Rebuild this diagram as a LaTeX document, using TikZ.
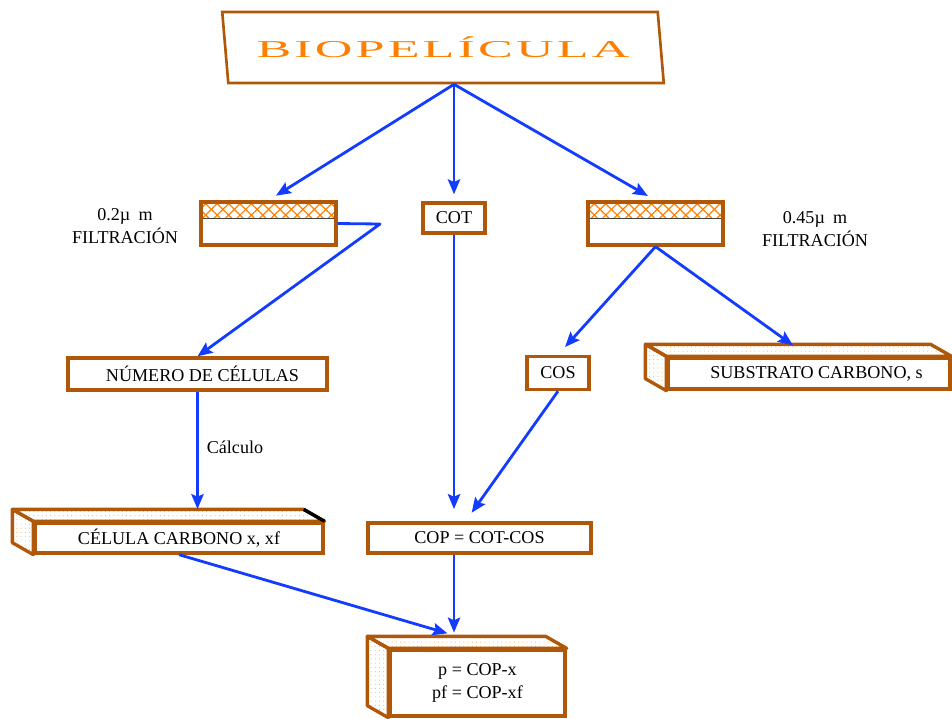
\documentclass[tikz,border=0pt]{standalone}
\usepackage{fontspec}
\setmainfont{Liberation Serif}
\newfontfamily\bioletra[LetterSpace=6]{Liberation Serif}
\usepackage{tikz}
\usetikzlibrary{calc,shapes.geometric,patterns.meta,arrows.meta}

\definecolor{marron}{RGB}{175,88,10}
\definecolor{naranja}{RGB}{255,128,0}
\definecolor{azul}{RGB}{20,60,255}

\begin{document}
\begin{tikzpicture}[x=0.02cm, y=-0.02cm, every node/.style={font=\fontsize{10.3}{13}\selectfont},
	caja/.style={draw=marron, line width=1.9pt, inner sep=0pt, anchor=center},
	cara/.style={draw=marron, line width=1.9pt, line join=round, pattern={Dots[distance=2.4pt, radius=.28pt]}, pattern color=naranja!70},
	filtro/.style={caja, minimum width=27mm, minimum height=8.6mm, path picture={
		\fill[pattern={Lines[angle=45, distance=4.6pt, line width=.7pt]}, pattern color=naranja] (path picture bounding box.north west) rectangle ([yshift=-3.3mm]path picture bounding box.north east);
		\fill[pattern={Lines[angle=-45, distance=4.6pt, line width=.7pt]}, pattern color=naranja] (path picture bounding box.north west) rectangle ([yshift=-3.3mm]path picture bounding box.north east);
		\draw[black!75, line width=.6pt] ([yshift=-3.3mm]path picture bounding box.north west) -- ([yshift=-3.3mm]path picture bounding box.north east);}},
	flecha/.style={draw=azul, line width=1.6pt, line join=round, -{Stealth[length=8.5pt, width=7pt, inset=1.5pt]}}]
	\useasboundingbox (0,0) rectangle (952,718);

	% titulo
	\node[draw=marron, line width=1.5pt, trapezium, trapezium left angle=104, trapezium right angle=76, trapezium stretches=true, minimum width=88.4mm, minimum height=14.2mm, inner sep=0pt] (bio) at (443,47.5) {\bioletra\fontsize{13.8}{16}\selectfont\color{naranja}\scalebox{2.15}[1]{BIOPELÍCULA}};

	% filtros y cajas
	\node[filtro] (fa) at (268.5,223.5) {};
	\node[filtro] (fb) at (655.5,223.5) {};
	\node[caja, minimum width=12.4mm, minimum height=6mm] (cot) at (454,218) {COT};
	\node[caja, minimum width=51.8mm, minimum height=6.4mm] (num) at (197.5,374) {\hspace{2mm}NÚMERO DE CÉLULAS};
	\node[caja, minimum width=12.4mm, minimum height=6.6mm] (cos) at (558,373) {COS};
	\node[caja, minimum width=56.4mm, minimum height=6.2mm] (sub) at (809,373.5) {\hspace{3mm}SUBSTRATO CARBONO, s};
	\node[caja, minimum width=57.6mm, minimum height=6mm] (cel) at (179,538) {CÉLULA CARBONO x, xf};
	\node[caja, minimum width=44.6mm, minimum height=6mm] (cop) at (479.5,538) {COP = COT-COS};
	\node[caja, minimum width=35mm, minimum height=13.2mm, align=center] (pval) at (477.5,683) {p = COP-x\\pf = COP-xf};

	% rotulos
	\node[align=center] (rota) at (125,226) {0.2µ\hspace{0.45em}m\\FILTRACIÓN};
	\node[align=center] (rotb) at (815,229) {0.45µ\hspace{0.45em}m\\FILTRACIÓN};
	\node (calculo) at (235,447) {Cálculo};
	\coordinate (codo) at (380,224);

	% caras de las cajas 3d
	\foreach \n in {sub,cel,pval} {
		\draw[cara] (\n.north west) -- ++(-21,-12) -- ($(\n.north east)+(-21,-12)$) -- (\n.north east) -- cycle;
		\draw[cara] (\n.north west) -- ++(-21,-12) -- ($(\n.south west)+(-21,-12)$) -- (\n.south west) -- cycle;
	}
	\draw[black, line width=1.9pt] ($(cel.north east)+(-21,-12)$) -- (cel.north east);

	% flechas
	\draw[flecha, shorten >=5pt] (bio.bottom side -| cot) -- (fa.north);
	\draw[flecha, shorten >=4pt] (bio.bottom side -| cot) -- (cot.north);
	\draw[flecha, shorten >=5pt] (bio.bottom side -| cot) -- (fb.north);
	\draw[flecha] (fa.east) -- (codo) -- (num.north);
	\draw[flecha, shorten >=7pt] (num.south) -- (num.south |- cel.north);
	\draw[flecha, shorten >=7pt] (cot.south) -- (cot.south |- cop.north);
	\draw[flecha, shorten >=6pt] (fb.south) -- (cos.north);
	\draw[flecha] (fb.south) -- ($(sub.north)+(-16,-11)$);
	\draw[flecha, shorten >=6pt] (cos.south) -- ($(cop.north)+(-14,0)$);
	\draw[flecha] (cel.south) -- ($(pval.north)+(-30,-15)$);
	\draw[flecha, shorten >=9pt] (cot.south |- cop.south) -- (cot.south |- pval.north);

\end{tikzpicture}
\end{document}
